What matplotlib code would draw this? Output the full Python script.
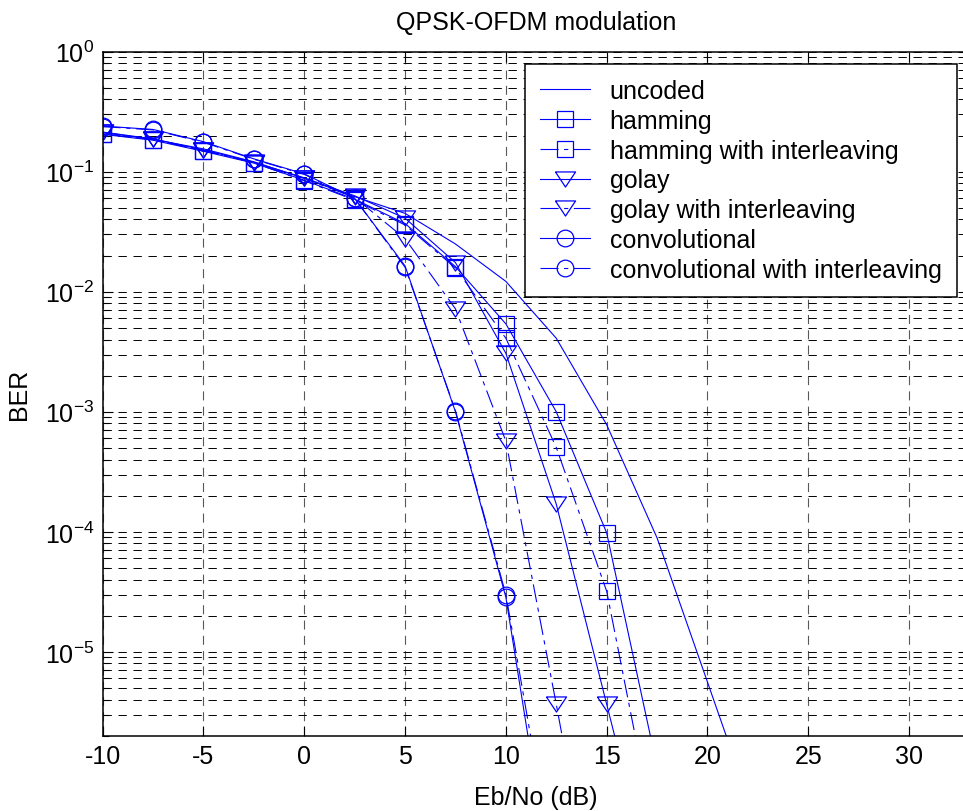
import matplotlib
matplotlib.use('Agg')
import matplotlib.pyplot as plt

plt.rcParams['font.family'] = ['Liberation Sans', 'DejaVu Sans']
plt.rcParams['mathtext.fontset'] = 'custom'
plt.rcParams['mathtext.rm'] = 'Liberation Sans'
plt.rcParams['mathtext.it'] = 'Liberation Sans:italic'
plt.rcParams['mathtext.bf'] = 'Liberation Sans:bold'
plt.rcParams['lines.scale_dashes'] = False
plt.rcParams['axes.unicode_minus'] = False

# Eb/No (dB) and BER
ebno = [-10, -7.5, -5, -2.5, 0, 2.5, 5, 7.5, 10, 12.5, 15, 17.5, 20, 22.5]
uncoded = [0.212, 0.186, 0.155, 0.121, 0.088, 0.062, 0.045, 0.025, 0.0122,
           4.1e-3, 7.8e-4, 8.9e-5, 5.6e-6, 3.5e-7]
hamming = [0.205, 0.183, 0.148, 0.118, 0.085, 0.059, 0.037, 0.0162, 5.4e-3,
           1.0e-3, 9.8e-5, 1.1e-6]
hamming_int = [0.207, 0.185, 0.150, 0.119, 0.084, 0.058, 0.036, 0.0158, 4.1e-3,
               5.05e-4, 3.2e-5, 2.4e-7]
golay = [0.214, 0.188, 0.152, 0.120, 0.089, 0.063, 0.041, 0.0175, 3.07e-3,
         1.7e-4, 3.66e-6, 8.0e-8]
golay_int = [0.213, 0.187, 0.151, 0.119, 0.088, 0.061, 0.0277, 7.2e-3, 5.7e-4,
             3.66e-6, 2e-8]
conv = [0.240, 0.225, 0.178, 0.128, 0.096, 0.060, 0.0164, 1.0e-3, 2.85e-5, 6.6e-8]
conv_int = [0.238, 0.223, 0.176, 0.127, 0.095, 0.060, 0.0160, 1.02e-3, 3.0e-5, 1.2e-7]

labels = ["uncoded", "hamming", "hamming with interleaving", "golay",
          "golay with interleaving", "convolutional", "convolutional with interleaving"]

tri = [(-1, 0.75), (1, 0.75), (0, -0.75), (-1, 0.75)]
dashdot = (0, (13, 4, 3, 4))

fig = plt.figure(figsize=(9.63, 8.12), dpi=100)
ax = fig.add_axes([0.1066, 0.0927, 0.9002, 0.8424])

series = [
    (uncoded, None, '-', 12),
    (hamming, 's', '-', 11.5),
    (hamming_int, 's', dashdot, 11.5),
    (golay, tri, '-', 14.5),
    (golay_int, tri, dashdot, 14.5),
    (conv, 'o', '-', 12),
    (conv_int, 'o', dashdot, 12),
]
for (vals, mk, ls, ms), lab in zip(series, labels):
    ax.semilogy(ebno[:len(vals)], vals, color='blue', linestyle=ls, lw=0.8,
                marker=mk, markersize=ms, mfc='none', mec='blue', mew=0.9,
                label=lab)

ax.set_xlim(-10, 33)
ax.set_ylim(2e-6, 1)
ax.set_xticks([-10, -5, 0, 5, 10, 15, 20, 25, 30])

ax.grid(True, which='major', axis='x', color='0.35', lw=0.8,
        linestyle=(0, (6.5, 4.5)))
ax.grid(True, which='both', axis='y', color='black', lw=0.7,
        linestyle=(0, (6, 4.8)))
ax.set_axisbelow(True)

ax.tick_params(which='both', direction='in', top=True, right=True,
               labelsize=18, width=0.8)
ax.tick_params(which='major', length=7, pad=6)
ax.tick_params(which='minor', length=4)
for sp in ax.spines.values():
    sp.set_linewidth(1.1)

ax.set_title("QPSK-OFDM modulation", fontsize=18, pad=16)
ax.set_xlabel("Eb/No (dB)", fontsize=18, labelpad=12)
ax.set_ylabel("BER", fontsize=18, labelpad=10)

leg = ax.legend(loc='upper right', bbox_to_anchor=(0.985, 0.982), borderaxespad=0,
                fontsize=18, fancybox=False, framealpha=1, edgecolor='black',
                handlelength=2.0, handletextpad=0.8, borderpad=0.6,
                labelspacing=0.23, numpoints=1)
leg.get_frame().set_linewidth(1.1)

fig.savefig('out.png', dpi=100)
